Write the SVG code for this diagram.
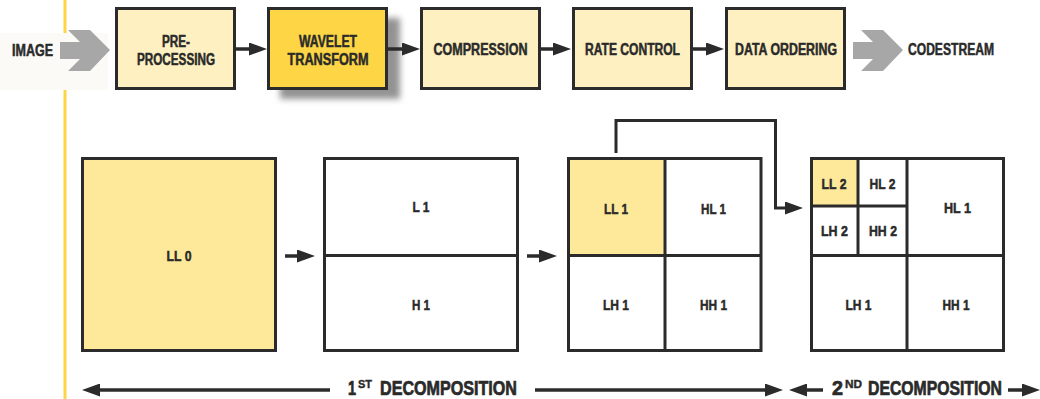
<svg xmlns="http://www.w3.org/2000/svg" width="1040" height="399" viewBox="0 0 1040 399">
<defs>
<style>
.box{fill:#fef0c0;stroke:#2b2b2b;stroke-width:3}
.hot{fill:#fed645;stroke:#2b2b2b;stroke-width:3}
.cell{fill:#ffffff;stroke:#2b2b2b;stroke-width:3}
.ll{fill:#fee99b;stroke:#2b2b2b;stroke-width:3}
.div{stroke:#2b2b2b;stroke-width:3;fill:none}
.con{stroke:#2b2b2b;stroke-width:3.5;fill:none;marker-end:url(#ah)}
.t{font-family:"Liberation Sans Narrow","Liberation Sans",sans-serif;font-weight:bold;fill:#2a2a2a;stroke:#2a2a2a;stroke-width:0.5;text-anchor:middle}
.top{font-size:16px}
.lab{font-size:15.5px}
.big{font-size:20px;text-anchor:start;stroke-width:0.7}
.sup{font-size:11px;stroke-width:0.4}
.gray{fill:#a7a7a7}
</style>
<marker id="ah" viewBox="0 0 18 13" markerWidth="18" markerHeight="13" refX="8" refY="6.5" orient="auto" markerUnits="userSpaceOnUse">
<path d="M0,0 L18,6.5 L0,13 Z" fill="#2b2b2b"/>
</marker>
<filter id="blur" x="-20%" y="-20%" width="140%" height="140%">
<feGaussianBlur stdDeviation="3"/>
</filter>
</defs>
<rect width="1040" height="399" fill="#ffffff"/>
<line x1="65" y1="0" x2="65" y2="399" stroke="#fdd646" stroke-width="3"/>
<rect x="0" y="33" width="108" height="57" fill="#fbfaf7"/>

<g id="image-input">
<polygon class="gray" points="60,42 80,42 68,30 90,30 110,50 90,71 68,71 80,59 60,59"/>
<text class="t top" x="32.5" y="56" textLength="41" lengthAdjust="spacingAndGlyphs">IMAGE</text>
</g>
<g id="preprocessing">
<rect class="box" x="116.5" y="8.5" width="118" height="80"/>
<text class="t top" x="176" y="47" textLength="28" lengthAdjust="spacingAndGlyphs">PRE-</text>
<text class="t top" x="176" y="65" textLength="78" lengthAdjust="spacingAndGlyphs">PROCESSING</text>
</g>
<g id="wavelet-transform">
<rect x="280" y="18" width="120" height="81" fill="#808080" opacity="0.85" filter="url(#blur)"/>
<rect class="hot" x="268.5" y="8.5" width="118" height="80"/>
<text class="t top" x="328" y="47" textLength="58" lengthAdjust="spacingAndGlyphs">WAVELET</text>
<text class="t top" x="328" y="65" textLength="81" lengthAdjust="spacingAndGlyphs">TRANSFORM</text>
</g>
<g id="compression">
<rect class="box" x="421.5" y="8.5" width="118" height="80"/>
<text class="t top" x="480.5" y="55" textLength="94" lengthAdjust="spacingAndGlyphs">COMPRESSION</text>
</g>
<g id="rate-control">
<rect class="box" x="573.5" y="8.5" width="118" height="80"/>
<text class="t top" x="632.5" y="55" textLength="95" lengthAdjust="spacingAndGlyphs">RATE CONTROL</text>
</g>
<g id="data-ordering">
<rect class="box" x="726.5" y="8.5" width="118" height="80"/>
<text class="t top" x="786" y="55" textLength="102" lengthAdjust="spacingAndGlyphs">DATA ORDERING</text>
</g>
<g id="codestream">
<polygon class="gray" points="853,42 873,42 861,30 883,30 903,50 883,71 861,71 873,59 853,59"/>
<text class="t top" x="951" y="55" textLength="86" lengthAdjust="spacingAndGlyphs">CODESTREAM</text>
</g>

<g id="ll0">
<rect class="ll" x="82.5" y="158.5" width="193" height="192"/>
<text class="t lab" x="179" y="261" textLength="25" lengthAdjust="spacingAndGlyphs">LL 0</text>
</g>
<g id="decomp-1a">
<rect class="cell" x="324.5" y="158.5" width="193" height="192"/>
<line class="div" x1="324" y1="255.5" x2="518" y2="255.5"/>
<text class="t lab" x="421" y="212" textLength="17" lengthAdjust="spacingAndGlyphs">L 1</text>
<text class="t lab" x="421" y="310" textLength="18" lengthAdjust="spacingAndGlyphs">H 1</text>
</g>
<g id="decomp-1b">
<rect class="cell" x="568.5" y="158.5" width="192.5" height="192"/>
<rect x="570" y="160" width="94" height="94" fill="#fee99b"/>
<line class="div" x1="665" y1="158" x2="665" y2="351"/>
<line class="div" x1="568" y1="255.5" x2="761" y2="255.5"/>
<text class="t lab" x="616" y="214" textLength="24" lengthAdjust="spacingAndGlyphs">LL 1</text>
<text class="t lab" x="713.5" y="214" textLength="25" lengthAdjust="spacingAndGlyphs">HL 1</text>
<text class="t lab" x="616" y="310" textLength="26" lengthAdjust="spacingAndGlyphs">LH 1</text>
<text class="t lab" x="713.5" y="310" textLength="27" lengthAdjust="spacingAndGlyphs">HH 1</text>
</g>
<g id="decomp-2">
<rect class="cell" x="811.5" y="158.5" width="192" height="192"/>
<rect x="813" y="160" width="44" height="45" fill="#fee99b"/>
<line class="div" x1="907" y1="158" x2="907" y2="351"/>
<line class="div" x1="811" y1="255.5" x2="1003" y2="255.5"/>
<line class="div" x1="858" y1="158" x2="858" y2="255"/>
<line class="div" x1="811" y1="206" x2="907" y2="206"/>
<text class="t lab" x="834" y="189" textLength="25" lengthAdjust="spacingAndGlyphs">LL 2</text>
<text class="t lab" x="882.5" y="189" textLength="26" lengthAdjust="spacingAndGlyphs">HL 2</text>
<text class="t lab" x="834.5" y="236" textLength="27" lengthAdjust="spacingAndGlyphs">LH 2</text>
<text class="t lab" x="883" y="236" textLength="28" lengthAdjust="spacingAndGlyphs">HH 2</text>
<text class="t lab" x="957.5" y="213" textLength="27" lengthAdjust="spacingAndGlyphs">HL 1</text>
<text class="t lab" x="858.5" y="310" textLength="26" lengthAdjust="spacingAndGlyphs">LH 1</text>
<text class="t lab" x="956" y="310" textLength="27" lengthAdjust="spacingAndGlyphs">HH 1</text>
</g>

<g id="connectors">
<line class="con" x1="236" y1="49" x2="257" y2="49"/>
<line class="con" x1="388" y1="49" x2="410" y2="49"/>
<line class="con" x1="541" y1="49" x2="561" y2="49"/>
<line class="con" x1="693" y1="49" x2="714" y2="49"/>
<line class="con" x1="285" y1="256" x2="305" y2="256"/>
<line class="con" x1="527" y1="256" x2="547" y2="256"/>
<path class="con" style="stroke-width:3" d="M616,153 V120.5 H775.5 V208 H793"/>
<line class="con" x1="330" y1="390" x2="92" y2="390"/>
<line class="con" x1="535" y1="390" x2="773" y2="390"/>
<line class="con" x1="823" y1="390" x2="799" y2="390"/>
<line class="con" x1="1008" y1="390" x2="1030" y2="390"/>
</g>

<g id="labels">
<text class="t big" y="394.5"><tspan x="348" textLength="8" lengthAdjust="spacingAndGlyphs">1</tspan><tspan class="sup" x="358" y="387.5" textLength="14" lengthAdjust="spacingAndGlyphs">ST</tspan><tspan x="380" y="394.5" textLength="137" lengthAdjust="spacingAndGlyphs">DECOMPOSITION</tspan></text>
<text class="t big" y="394.5"><tspan x="832" textLength="11" lengthAdjust="spacingAndGlyphs">2</tspan><tspan class="sup" x="845" y="387.5" textLength="17" lengthAdjust="spacingAndGlyphs">ND</tspan><tspan x="868" y="394.5" textLength="134" lengthAdjust="spacingAndGlyphs">DECOMPOSITION</tspan></text>
</g>
</svg>
